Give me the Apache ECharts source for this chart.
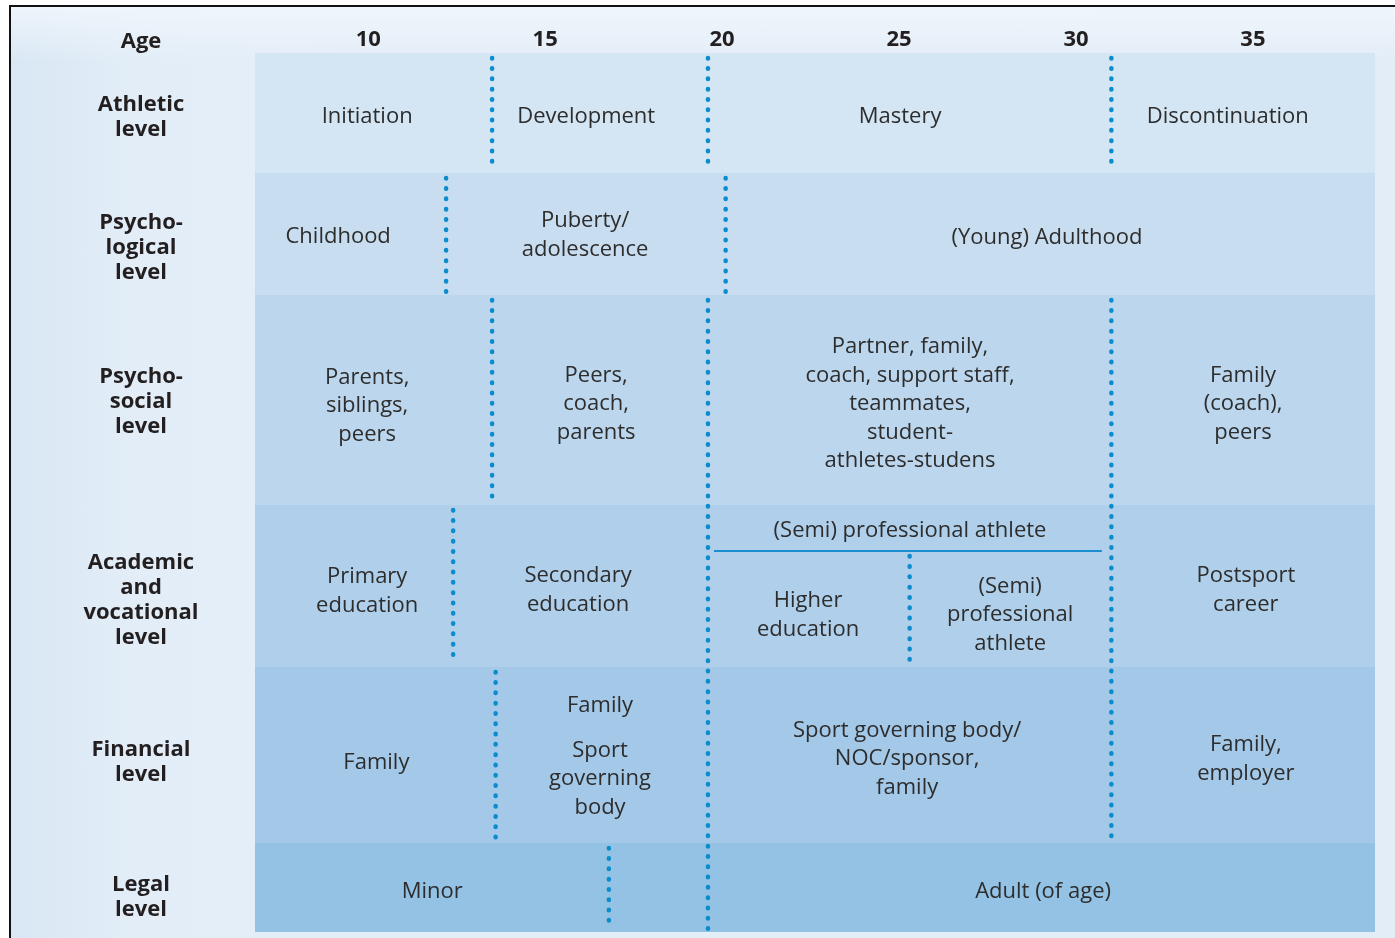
<!DOCTYPE html>
<html>
<head>
<meta charset="utf-8">
<script src="https://cdn.jsdelivr.net/npm/echarts@6/dist/echarts.min.js"></script>
<style>
    html, body { margin: 0; padding: 0; width: 1395px; height: 938px; overflow: hidden; background: #fff; }
    #frame {
        position: absolute; left: 9px; top: 5px; width: 1400px; height: 950px;
        border-left: 2px solid #111; border-top: 2px solid #111;
        background:
            linear-gradient(180deg, rgba(240,246,252,0.9) 0px, rgba(240,246,252,0) 55px),
            linear-gradient(90deg, #d9e7f4 0px, #e2edf7 120px, #e4eef8 240px, #e3edf7 100%);
    }
    #chart { position: absolute; left: 0; top: 0; width: 1395px; height: 938px; }
</style>
</head>
<body>
<div id="frame"></div>
<div id="chart"></div>
<script>
// ---- data ----
const ageTicks = [10, 15, 20, 25, 30, 35];
const rowLabels = ['Athletic\nlevel', 'Psycho-\nlogical\nlevel', 'Psycho-\nsocial\nlevel',
    'Academic\nand\nvocational\nlevel', 'Financial\nlevel', 'Legal\nlevel'];

// [row, age at centre, text]
const athleticCells = [[0, 9.97, 'Initiation'], [0, 16.16, 'Development'], [0, 25.03, 'Mastery'], [0, 34.29, 'Discontinuation']];
const psychologicalCells = [[1, 9.15, 'Childhood'], [1, 16.13, 'Puberty/\nadolescence'], [1, 29.18, '(Young) Adulthood']];
const psychosocialCells = [[2, 9.97, 'Parents,\nsiblings,\npeers'], [2, 16.44, 'Peers,\ncoach,\nparents'],
    [2, 25.31, 'Partner, family,\ncoach, support staff,\nteammates,\nstudent-\nathletes-studens'], [2, 34.72, 'Family\n(coach),\npeers']];
const academicCells = [[3, 9.97, 'Primary\neducation'], [3, 15.93, 'Secondary\neducation'], [3, 25.31, '(Semi) professional athlete'],
    [3, 22.43, 'Higher\neducation'], [3, 28.14, '(Semi)\nprofessional\nathlete'], [3, 34.80, 'Postsport\ncareer']];
const financialCells = [[4, 10.23, 'Family'], [4, 16.55, 'Family'], [4, 16.55, 'Sport\ngoverning\nbody'],
    [4, 25.23, 'Sport governing body/\nNOC/sponsor,\nfamily'], [4, 34.80, 'Family,\nemployer']];
const legalCells = [[5, 11.81, 'Minor'], [5, 29.07, 'Adult (of age)']];

// dotted dividers: [age, first row, last row]
const dividers = [[13.5, 0, 0], [19.6, 0, 0], [31.0, 0, 0],
    [12.2, 1, 1], [20.1, 1, 1],
    [13.5, 2, 2], [19.6, 2, 5], [31.0, 2, 4],
    [12.4, 3, 3], [13.6, 4, 4], [16.8, 5, 5]];
// academic row split: rule from..to, dotted split age
const academicRule = [19.77, 30.73];
const academicSplitAge = 25.3;

// ---- layout ----
const X_MIN = 6.8, X_MAX = 38.45;
const ROW_HEIGHTS = [120, 122, 210, 162, 176, 89];
const ROW_COLORS = ['#d4e5f3', '#c8ddf0', '#bbd6ed', '#afcfea', '#a3c8e8', '#93c2e4'];
const ROW_LABEL_DY = [4, 14, 2, 14, 7, 10];
const CELL_DY = { '1:0': 3, '1:1': 1, '2:0': 6, '3:0': 5, '3:2': -55, '3:3': 29, '3:4': 29, '4:0': 8, '4:1': -49, '4:2': 24 };
const RULE_DY = 46;
const FONT = '"Open Sans", "Noto Sans", sans-serif';
const TEXT_COLOR = '#2d2d2d';
const DOT_COLOR = '#0a8ccd';

const rowTop = [0];
ROW_HEIGHTS.forEach((h, i) => rowTop.push(rowTop[i] + h));
const Y_MAX = rowTop[rowTop.length - 1];
const rowCenter = i => (rowTop[i] + rowTop[i + 1]) / 2;

const cellGroups = [athleticCells, psychologicalCells, psychosocialCells, academicCells, financialCells, legalCells];
const cells = [];
cellGroups.forEach(group => group.forEach((c, k) => {
    const dy = CELL_DY[c[0] + ':' + k] !== undefined ? CELL_DY[c[0] + ':' + k] : 4;
    cells.push({ age: c[1], y: rowCenter(c[0]) + dy, text: c[2] });
}));

const segments = dividers.map(d => [d[0], rowTop[d[1]] + 5, rowTop[d[2] + 1] - 3]);
segments.push([academicSplitAge, rowTop[3] + RULE_DY + 5, rowTop[4] - 2]);

const dotted = (p0, p1) => ({
    type: 'line',
    shape: { x1: p0[0], y1: p0[1], x2: p1[0], y2: p1[1] },
    style: { stroke: DOT_COLOR, lineWidth: 4.5, lineDash: [0.5, 9.8], lineCap: 'round' }
});

const chart = echarts.init(document.getElementById('chart'), null, { renderer: 'canvas' });

const option = {
    animation: false,
    backgroundColor: 'transparent',
    grid: { left: 255, right: 20, top: 53, bottom: 6 },
    xAxis: {
        type: 'value', position: 'top', min: X_MIN, max: X_MAX,
        axisLine: { show: false }, axisTick: { show: false }, splitLine: { show: false },
        axisLabel: { customValues: ageTicks, fontFamily: FONT, fontWeight: 'bold', fontSize: 22, color: '#231f20', margin: 2 },
        name: 'Age', nameLocation: 'start', nameGap: 114,
        nameTextStyle: { fontFamily: FONT, fontWeight: 'bold', fontSize: 22, color: '#231f20', align: 'center', verticalAlign: 'bottom', padding: [0, 0, 0, 0] }
    },
    yAxis: { type: 'value', inverse: true, min: 0, max: Y_MAX, show: false },
    series: [
        {
            type: 'custom', silent: true,
            data: ROW_HEIGHTS.map((_, i) => [i]),
            renderItem: (params, api) => {
                const i = params.dataIndex;
                const p0 = api.coord([X_MIN, rowTop[i]]);
                const p1 = api.coord([X_MAX, rowTop[i + 1]]);
                return { type: 'rect', shape: { x: p0[0], y: p0[1], width: p1[0] - p0[0], height: p1[1] - p0[1] }, style: { fill: ROW_COLORS[i] } };
            }
        },
        {
            type: 'custom', silent: true, z: 3,
            data: segments,
            renderItem: (params, api) => dotted(api.coord([api.value(0), api.value(1)]), api.coord([api.value(0), api.value(2)]))
        },
        {
            type: 'custom', silent: true, z: 3,
            data: [[academicRule[0], academicRule[1], rowTop[3] + RULE_DY]],
            renderItem: (params, api) => {
                const p0 = api.coord([api.value(0), api.value(2)]);
                const p1 = api.coord([api.value(1), api.value(2)]);
                return { type: 'line', shape: { x1: p0[0], y1: p0[1], x2: p1[0], y2: p1[1] }, style: { stroke: '#1a8ed0', lineWidth: 2 } };
            }
        },
        {
            type: 'custom', silent: true, z: 4,
            data: cells.map(c => [c.age, c.y]),
            renderItem: (params, api) => {
                const p = api.coord([api.value(0), api.value(1)]);
                return {
                    type: 'text', x: p[0], y: p[1],
                    style: { text: cells[params.dataIndex].text, fill: TEXT_COLOR, fontFamily: FONT, fontSize: 22,
                        align: 'center', verticalAlign: 'middle', lineHeight: 28.5 }
                };
            }
        },
        {
            type: 'custom', silent: true, z: 4,
            data: rowLabels.map((_, i) => [X_MIN, rowCenter(i) + ROW_LABEL_DY[i]]),
            renderItem: (params, api) => {
                const p = api.coord([api.value(0), api.value(1)]);
                return {
                    type: 'text', x: p[0] - 114, y: p[1],
                    style: { text: rowLabels[params.dataIndex], fill: '#231f20', fontFamily: FONT, fontSize: 22, fontWeight: 'bold',
                        align: 'center', verticalAlign: 'middle', lineHeight: 25 }
                };
            }
        }
    ]
};

chart.setOption(option);
</script>
</body>
</html>
